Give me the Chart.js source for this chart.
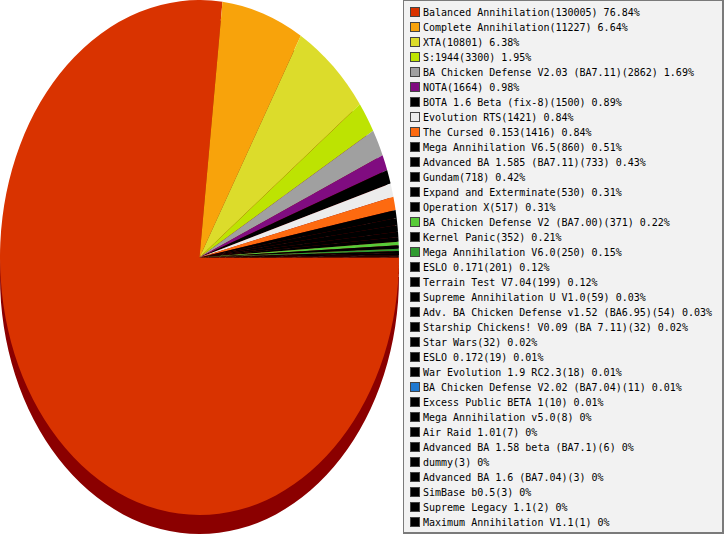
<!DOCTYPE html>
<html>
<head>
<meta charset="utf-8">
<script src="https://cdn.jsdelivr.net/npm/chart.js"></script>
<style>
  html, body { margin: 0; padding: 0; background: #fff; }
  #wrap { position: relative; width: 725px; height: 535px; overflow: hidden; }
  #pie { position: absolute; left: 0; top: 0; width: 400px; height: 535px; }
  #legend {
    position: absolute; left: 403px; top: 0; width: 321px; height: 534px;
    box-sizing: border-box; background: #f2f2f2;
    border: 1px solid #7a7a7a; border-right-width: 2px; border-bottom-width: 2px;
    padding: 4px 0 0 6px; margin: 0; list-style: none;
    font-family: "DejaVu Sans Mono", monospace; font-size: 10px; color: #000;
  }
  #legend li { height: 15px; line-height: 15px; white-space: nowrap; }
  #legend .sw {
    display: inline-block; width: 8px; height: 8px; border: 1px solid #444;
    margin-right: 3px; vertical-align: -1px;
  }
</style>
</head>
<body>
<div id="wrap">
  <div id="pie"><canvas id="c"></canvas></div>
  <ul id="legend"></ul>
</div>
<script>
var mods = [
  'Balanced Annihilation', 'Complete Annihilation', 'XTA', 'S:1944',
  'BA Chicken Defense V2.03 (BA7.11)', 'NOTA', 'BOTA 1.6 Beta (fix-8)', 'Evolution RTS',
  'The Cursed 0.153', 'Mega Annihilation V6.5', 'Advanced BA 1.585 (BA7.11)', 'Gundam',
  'Expand and Exterminate', 'Operation X', 'BA Chicken Defense V2 (BA7.00)', 'Kernel Panic',
  'Mega Annihilation V6.0', 'ESLO 0.171', 'Terrain Test V7.04', 'Supreme Annihilation U V1.0',
  'Adv. BA Chicken Defense v1.52 (BA6.95)', 'Starship Chickens! V0.09 (BA 7.11)', 'Star Wars', 'ESLO 0.172',
  'War Evolution 1.9 RC2.3', 'BA Chicken Defense V2.02 (BA7.04)', 'Excess Public BETA 1', 'Mega Annihilation v5.0',
  'Air Raid 1.01', 'Advanced BA 1.58 beta (BA7.1)', 'dummy', 'Advanced BA 1.6 (BA7.04)',
  'SimBase b0.5', 'Supreme Legacy 1.1', 'Maximum Annihilation V1.1'
];
var games = [
  130005, 11227, 10801, 3300,
  2862, 1664, 1500, 1421,
  1416, 860, 733, 718,
  530, 517, 371, 352,
  250, 201, 199, 59,
  54, 32, 32, 19,
  18, 11, 10, 8,
  7, 6, 3, 3,
  3, 2, 1
];
var percents = [
  '76.84', '6.64', '6.38', '1.95',
  '1.69', '0.98', '0.89', '0.84',
  '0.84', '0.51', '0.43', '0.42',
  '0.31', '0.31', '0.22', '0.21',
  '0.15', '0.12', '0.12', '0.03',
  '0.03', '0.02', '0.02', '0.01',
  '0.01', '0.01', '0.01', '0',
  '0', '0', '0', '0',
  '0', '0', '0'
];
var colors = [
  '#d93300', '#f8a30b', '#dcdc2b', '#bde302',
  '#a0a0a0', '#800c80', '#000000', '#ececec',
  '#fd6a10', '#000000', '#000000', '#000000',
  '#000000', '#000000', '#58cb38', '#000000',
  '#2f9a30', '#000000', '#000000', '#000000',
  '#000000', '#000000', '#000000', '#000000',
  '#000000', '#1e78d0', '#000000', '#000000',
  '#000000', '#000000', '#000000', '#000000',
  '#000000', '#000000', '#000000'
];

// squash the round pie into the tall ellipse, with a dark side underneath
var ellipse = {
  id: 'ellipse',
  beforeDatasetsDraw: function(chart){
    var ctx = chart.ctx, a = chart.chartArea;
    var cy = (a.top + a.bottom) / 2;
    var arcs = chart.getDatasetMeta(0).data;
    var r = arcs.length ? arcs[0].outerRadius : 1;
    var sy = (a.bottom - a.top) / 2 / r;
    ctx.save();
    ctx.translate(0, cy); ctx.scale(1, sy); ctx.translate(0, -cy);
    ctx.save();
    ctx.translate(0, 19 / sy);
    ctx.fillStyle = '#8b0000';
    arcs.forEach(function(el){
      ctx.beginPath();
      ctx.moveTo(el.x, el.y);
      ctx.arc(el.x, el.y, el.outerRadius, el.startAngle, el.endAngle);
      ctx.closePath();
      ctx.fill();
    });
    ctx.restore();
  },
  afterDatasetsDraw: function(chart){ chart.ctx.restore(); }
};

var chart = new Chart(document.getElementById('c'), {
  type: 'pie',
  data: {
    labels: mods,
    datasets: [{ data: games, backgroundColor: colors, borderWidth: 0 }]
  },
  options: {
    responsive: true, maintainAspectRatio: false, animation: false,
    rotation: 90,
    layout: { padding: { left: 0, right: 1, top: 0, bottom: 20 } },
    plugins: { legend: { display: false }, tooltip: { enabled: false } }
  },
  plugins: [ellipse]
});

// legend box on the right
var ul = document.getElementById('legend');
mods.forEach(function(m, i){
  var li = document.createElement('li');
  var sw = document.createElement('span');
  sw.className = 'sw';
  sw.style.background = colors[i];
  li.appendChild(sw);
  li.appendChild(document.createTextNode(m + '(' + games[i] + ') ' + percents[i] + '%'));
  ul.appendChild(li);
});
</script>
</body>
</html>
